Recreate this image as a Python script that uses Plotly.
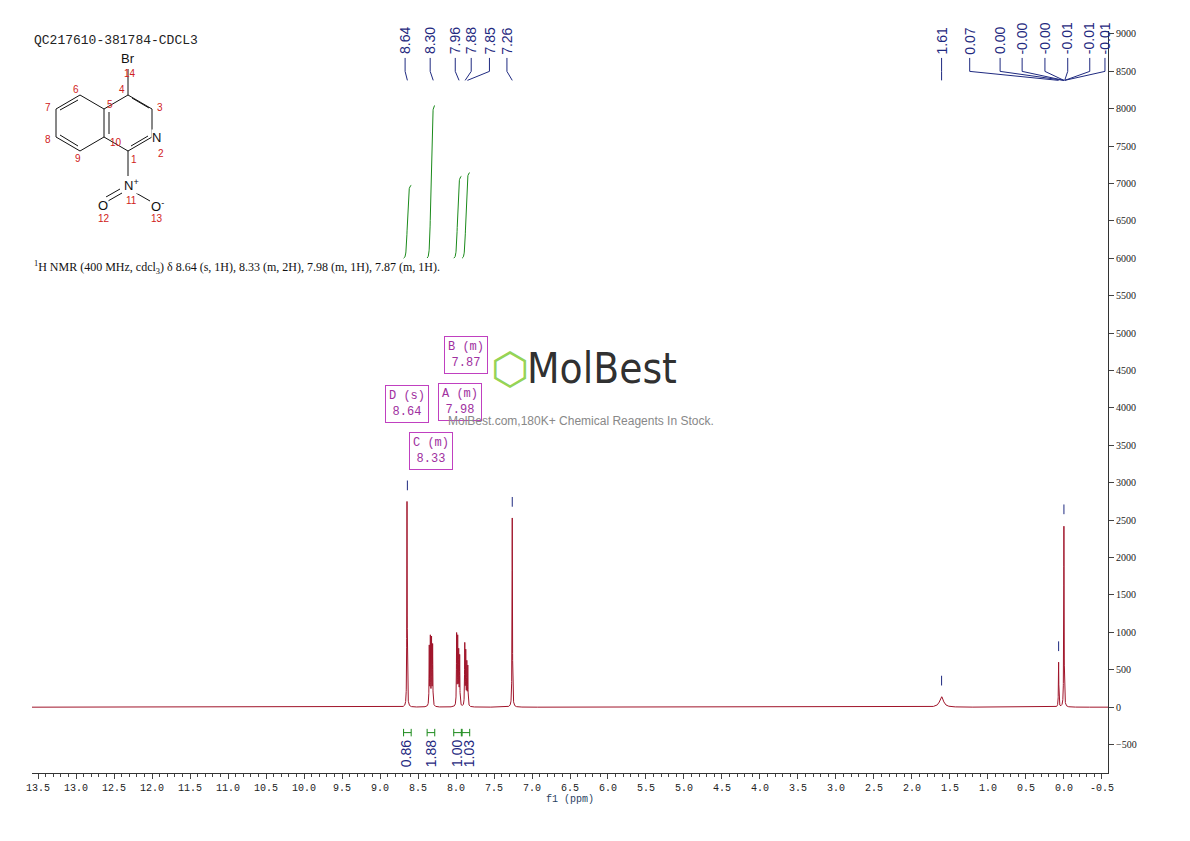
import numpy as np
import plotly.graph_objects as go

# peak list (ppm, height)
peak_ppm = [8.645, 8.352, 8.338, 8.322, 8.308, 7.992, 7.978, 7.965, 7.952, 7.885, 7.872, 7.858, 7.845,
            7.26, 1.61, 0.07, 0.0]
peak_h = [2750, 780, 900, 880, 800, 950, 880, 700, 650, 820, 700, 560, 520,
          2530, 140, 600, 2430]
peak_w = [0.003, 0.003, 0.003, 0.003, 0.003, 0.003, 0.003, 0.003, 0.003, 0.003, 0.003, 0.003, 0.003,
          0.003, 0.03, 0.003, 0.003]

# peak labels on top: label text, label position (ppm), peak position (ppm)
lab_text = ["8.64", "8.30", "7.96", "7.88", "7.85", "7.26", "1.61",
            "0.07", "0.00", "-0.00", "-0.00", "-0.01", "-0.01", "-0.01"]
lab_x = [8.67, 8.34, 8.01, 7.80, 7.56, 7.33, 1.61,
         1.24, 0.84, 0.55, 0.25, -0.05, -0.34, -0.54]
lab_peak = [8.64, 8.30, 7.96, 7.88, 7.85, 7.26, 1.61,
            0.07, 0.00, 0.00, 0.00, -0.01, -0.01, -0.01]

# integrals: centre ppm, value, top of integral curve
int_c = [8.64, 8.33, 7.98, 7.87]
int_lab = ["0.86", "1.88", "1.00", "1.03"]
int_top = [6980, 8050, 7100, 7150]
int_lab_x = [8.66, 8.33, 7.98, 7.83]

x = np.linspace(13.6, -0.6, 30000)
y = np.zeros_like(x)
for p, h, w in zip(peak_ppm, peak_h, peak_w):
    y += h * w**2 / ((x - p)**2 + w**2)

navy = "#1f2a80"
green = "#1a8a1a"
fig = go.Figure()
fig.add_trace(go.Scatter(x=x, y=y, mode="lines", line=dict(color="#a0142a", width=1), hoverinfo="skip"))

# integral curves
for c, top in zip(int_c, int_top):
    xi = np.linspace(c + 0.05, c - 0.05, 60)
    yi = 6000 + (top - 6000) * (1 / (1 + np.exp(-(c - xi) * 120)))
    fig.add_trace(go.Scatter(x=xi, y=yi, mode="lines", line=dict(color=green, width=1), hoverinfo="skip"))

ann = []
shapes = []
for t, lx, lp in zip(lab_text, lab_x, lab_peak):
    ann.append(dict(x=lx, y=8700, text=t, textangle=-90, showarrow=False, yanchor="bottom",
                    font=dict(family="Liberation Sans", size=14, color=navy)))
    shapes.append(dict(type="line", x0=lx, x1=lx, y0=8680, y1=8500, line=dict(color=navy, width=1)))
    shapes.append(dict(type="line", x0=lx, x1=lp, y0=8500, y1=8380, line=dict(color=navy, width=1)))
# small markers above peaks
for p, h in [(8.64, 2750), (7.26, 2530), (0.0, 2430), (0.07, 600), (1.61, 140)]:
    shapes.append(dict(type="line", x0=p, x1=p, y0=h + 150, y1=h + 280, line=dict(color=navy, width=1)))

for c, t, lx in zip(int_c, int_lab, int_lab_x):
    shapes.append(dict(type="line", x0=c + 0.05, x1=c - 0.05, y0=-340, y1=-340, line=dict(color=green, width=1)))
    shapes.append(dict(type="line", x0=c + 0.05, x1=c + 0.05, y0=-290, y1=-390, line=dict(color=green, width=1)))
    shapes.append(dict(type="line", x0=c - 0.05, x1=c - 0.05, y0=-290, y1=-390, line=dict(color=green, width=1)))
    ann.append(dict(x=lx, y=-410, text=t, textangle=-90, showarrow=False, yanchor="top",
                    font=dict(family="Liberation Sans", size=14, color=navy)))

# magenta multiplet boxes
for bx, by, t in [(8.64, 4050, "D (s)<br>8.64"), (7.95, 4080, "A (m)<br>7.98"),
                  (7.87, 4710, "B (m)<br>7.87"), (8.33, 3420, "C (m)<br>8.33")]:
    ann.append(dict(x=bx, y=by, text=t, showarrow=False, bordercolor="#c040c0", borderwidth=1,
                    borderpad=3, font=dict(family="Liberation Mono", size=12, color="#a030a0")))

# watermark
ann.append(dict(x=0.444, y=0.545, xref="paper", yref="paper", text="⬡", showarrow=False,
                font=dict(family="DejaVu Sans", size=44, color="rgba(120,200,40,0.8)")))
ann.append(dict(x=0.53, y=0.545, xref="paper", yref="paper", text="MolBest", showarrow=False,
                font=dict(family="DejaVu Sans Condensed", size=42, color="rgba(20,20,20,0.9)")))
ann.append(dict(x=0.51, y=0.474, xref="paper", yref="paper", text="MolBest.com,180K+ Chemical Reagents In Stock.",
                showarrow=False, font=dict(family="Liberation Sans", size=12, color="#888")))

ann.append(dict(x=0.0, y=1.0, xref="paper", yref="paper", text="QC217610-381784-CDCL3", showarrow=False,
                xanchor="left", yanchor="top", font=dict(family="Liberation Mono", size=13, color="#222")))
ann.append(dict(x=0.0, y=0.695, xref="paper", yref="paper",
                text="<sup>1</sup>H NMR (400 MHz, cdcl<sub>3</sub>) δ 8.64 (s, 1H), 8.33 (m, 2H), 7.98 (m, 1H), 7.87 (m, 1H).",
                showarrow=False, xanchor="left", font=dict(family="Liberation Serif", size=12, color="#111")))


# structure drawn in pixel coordinates
def px(x0, y0):
    return (x0 - 32) / 1076, (772 - y0) / 742


bonds = [((128, 94), (152, 108)), ((152, 108), (152, 136)), ((152, 136), (128, 150)), ((128, 150), (104, 136)),
         ((104, 136), (104, 108)), ((104, 108), (128, 94)), ((104, 108), (80, 94)), ((80, 94), (56, 108)),
         ((56, 108), (56, 136)), ((56, 136), (80, 150)), ((80, 150), (104, 136)), ((128, 94), (128, 68)),
         ((128, 150), (128, 175)), ((122, 192), (108, 200)), ((136, 192), (150, 200)),
         ((132, 97), (149, 107)), ((148, 135), (131, 145)), ((109, 133), (109, 111)), ((78, 99), (60, 109)),
         ((60, 134), (78, 145)), ((120, 188), (106, 196))]
for (a, b) in bonds:
    xa, ya = px(*a)
    xb, yb = px(*b)
    shapes.append(dict(type="line", xref="paper", yref="paper", x0=xa, y0=ya, x1=xb, y1=yb,
                       line=dict(color="#111", width=1)))
atoms = [(128, 58, "Br"), (156, 136, "N"), (131, 184, "N<sup>+</sup>"),
         (103, 205, "O"), (157, 205, "O<sup>-</sup>")]
nums = [(130, 73, "14"), (122, 88, "4"), (160, 106, "3"), (161, 152, "2"), (134, 158, "1"), (116, 142, "10"),
        (110, 104, "5"), (76, 88, "6"), (48, 106, "7"), (48, 138, "8"), (78, 157, "9"), (131, 199, "11"),
        (104, 217, "12"), (157, 217, "13")]
for ax_, ay, t in atoms:
    xa, ya = px(ax_, ay)
    ann.append(dict(x=xa, y=ya, xref="paper", yref="paper", text=t, showarrow=False,
                    xanchor="center", yanchor="middle", bgcolor="white", borderpad=0,
                    font=dict(family="Liberation Sans", size=13, color="#111")))
for ax_, ay, t in nums:
    xa, ya = px(ax_, ay)
    ann.append(dict(x=xa, y=ya, xref="paper", yref="paper", text=t, showarrow=False,
                    xanchor="center", yanchor="middle",
                    font=dict(family="Liberation Sans", size=10, color="#d02020")))

fig.update_layout(
    width=1190, height=841, plot_bgcolor="white", paper_bgcolor="white", showlegend=False,
    margin=dict(l=24, r=90, t=23, b=76, autoexpand=False),
    annotations=ann, shapes=shapes,
    xaxis=dict(range=[13.58, -0.58], tickvals=[13.5 - 0.5 * i for i in range(29)],
               ticktext=[f"{13.5 - 0.5 * i:.1f}" for i in range(29)], ticks="outside", ticklen=5,
               showline=True, linecolor="#333", showgrid=False, zeroline=False,
               minor=dict(dtick=0.1, ticks="outside", ticklen=3),
               title=dict(text="f1 (ppm)", font=dict(family="Liberation Mono", size=10), standoff=0),
               tickfont=dict(family="Liberation Mono", size=10, color="#222")),
    yaxis=dict(range=[-880, 9040], side="right", dtick=500, ticks="outside", ticklen=5, showline=True,
               linecolor="#333", showgrid=False, zeroline=False,
               tickfont=dict(family="Liberation Serif", size=10, color="#222")),
)
fig.write_html("out.html")
